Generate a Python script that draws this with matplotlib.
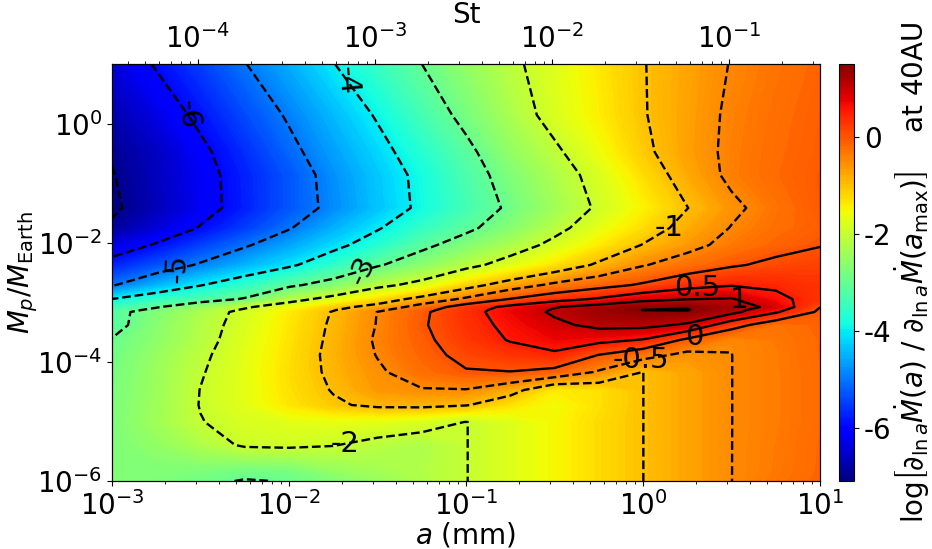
import numpy as np
import matplotlib
matplotlib.use('Agg')
import matplotlib.pyplot as plt

plt.rcParams['font.size'] = 20
plt.rcParams['axes.unicode_minus'] = False

# grid of the map, log10 of a (mm) and log10 of Mp/MEarth
log_a = [-3.0, -2.75, -2.5, -2.25, -2.0, -1.75, -1.5, -1.25, -1.0,
         -0.75, -0.5, -0.25, 0.0, 0.25, 0.5, 0.75, 1.0]
log_mp = [-6.0, -5.815, -5.396, -5.01, -4.724, -4.472, -4.17, -3.885, -3.633, -3.381,
          -3.163, -3.129, -3.079, -2.945, -2.71, -2.374, -2.038, -1.753, -1.417,
          -0.863, -0.477, 0.144, 1.0]

field = [
    [-2.7, -2.78, -2.9, -3.03, -2.98, -2.75, -2.5, -2.25, -2.01, -1.75, -1.5, -1.25, -1.002, -0.75, -0.502, -0.32, -0.15],
    [-2.72, -2.72, -2.75, -2.85, -2.8, -2.5, -2.35, -2.22, -2.01, -1.75, -1.5, -1.25, -1.002, -0.75, -0.502, -0.35, -0.17],
    [-2.75, -2.55, -2.25, -1.93, -1.9, -1.98, -2.15, -2.25, -2.01, -1.75, -1.5, -1.25, -1.002, -0.75, -0.502, -0.36, -0.18],
    [-2.75, -2.4, -2.02, -1.82, -1.7, -1.65, -1.68, -1.8, -2.01, -1.75, -1.5, -1.25, -1.002, -0.75, -0.502, -0.38, -0.2],
    [-2.78, -2.42, -1.98, -1.7, -1.35, -1.07, -0.9, -0.87, -0.97, -1.3, -1.55, -1.3, -1.002, -0.75, -0.502, -0.38, -0.2],
    [-2.8, -2.45, -1.99, -1.68, -1.3, -0.97, -0.63, -0.53, -0.52, -0.82, -1.4, -1.3, -1.002, -0.75, -0.502, -0.38, -0.2],
    [-2.85, -2.45, -2.04, -1.68, -1.28, -0.9, -0.57, -0.25, -0.03, -0.01, -0.13, -0.55, -1.002, -0.75, -0.502, -0.38, -0.2],
    [-2.9, -2.5, -2.1, -1.7, -1.3, -0.87, -0.48, -0.15, 0.12, 0.28, 0.42, -0.01, -0.33, -0.62, -0.502, -0.38, -0.18],
    [-2.97, -2.6, -2.18, -1.75, -1.33, -0.9, -0.44, -0.1, 0.24, 0.53, 0.72, 0.63, 0.47, -0.1, -0.49, -0.35, -0.18],
    [-3.2, -2.65, -2.22, -1.8, -1.36, -0.93, -0.48, -0.05, 0.3, 0.62, 0.9, 1.12, 1.13, 0.93, 0.2, -0.3, -0.15],
    [-3.2, -2.72, -2.28, -1.85, -1.4, -0.97, -0.49, -0.08, 0.33, 0.72, 1.07, 1.3, 1.45, 1.45, 1.13, 0.55, -0.08],
    [-3.3, -2.85, -2.38, -1.93, -1.48, -1.03, -0.6, -0.15, 0.3, 0.7, 1.04, 1.3, 1.505, 1.52, 1.18, 0.65, -0.05],
    [-3.45, -3.05, -2.55, -2.08, -1.65, -1.15, -0.82, -0.3, 0.24, 0.62, 0.97, 1.2, 1.4, 1.48, 1.25, 0.86, 0.005],
    [-4.0, -3.6, -3.3, -2.95, -2.25, -1.78, -1.3, -0.83, -0.42, 0.01, 0.3, 0.55, 0.85, 0.98, 1.03, 0.62, 0.3],
    [-5.05, -4.5, -4.03, -3.6, -3.12, -2.73, -2.17, -1.8, -1.2, -0.75, -0.4, -0.17, 0.06, 0.33, 0.47, 0.42, 0.3],
    [-5.75, -5.35, -4.93, -4.5, -4.1, -3.6, -3.06, -2.63, -2.18, -1.75, -1.33, -0.92, -0.53, -0.27, -0.05, 0.1, 0.18],
    [-6.37, -5.94, -5.5, -5.07, -4.63, -4.17, -3.7, -3.15, -2.72, -2.3, -1.85, -1.4, -0.98, -0.65, -0.35, -0.15, -0.02],
    [-6.9, -6.45, -5.96, -5.52, -5.04, -4.53, -4.05, -3.55, -3.13, -2.67, -2.17, -1.68, -1.27, -0.82, -0.48, -0.25, -0.1],
    [-7.1, -6.67, -6.22, -5.77, -5.3, -4.85, -4.36, -3.88, -3.38, -2.9, -2.4, -1.92, -1.46, -1.01, -0.6, -0.3, -0.05],
    [-7.03, -6.62, -6.2, -5.75, -5.3, -4.8, -4.32, -3.85, -3.28, -2.75, -2.27, -1.8, -1.27, -0.8, -0.4, -0.2, -0.05],
    [-6.95, -6.6, -6.12, -5.65, -5.15, -4.67, -4.2, -3.68, -3.15, -2.55, -2.1, -1.6, -1.1, -0.72, -0.4, -0.22, -0.08],
    [-6.75, -6.33, -5.87, -5.4, -4.93, -4.45, -3.94, -3.37, -2.83, -2.3, -1.8, -1.42, -1.03, -0.73, -0.42, -0.25, -0.1],
    [-6.4, -5.95, -5.5, -5.02, -4.55, -4.02, -3.5, -3.001, -2.55, -2.12, -1.73, -1.37, -1.02, -0.75, -0.48, -0.3, -0.15],
]

line_levels = [-7, -6, -5, -4, -3, -2, -1, -0.5, 0, 0.5, 1, 1.5]
label_a = [-2.588, -2.633, -1.684, -1.588, -1.684, 0.164, -0.017, 0.294, 0.305, 0.548]
label_mp = [0.126, -2.46, 0.7, -2.46, -5.35, -1.82, -3.935, -3.63, -2.71, -2.93]
label_rot = [-85, 88, -85, 65, 0, 0, 0, 0, 0, 0]
cbar_ticks = [-6, -4, -2, 0]
st_ticks = [-4, -3, -2, -1]
a_ticks = [-3, -2, -1, 0, 1]
mp_ticks = [-6, -4, -2, 0]
st_offset = -1.486   # log St = log a + offset


def log_minor(lo, hi):
    minor = []
    for n in range(int(np.floor(lo)), int(np.ceil(hi))):
        for m in range(2, 10):
            v = n + np.log10(m)
            if lo <= v <= hi:
                minor.append(v)
    return minor


fig = plt.figure(figsize=(9.32, 5.49), dpi=100)
ax = fig.add_axes([112 / 932, 1 - 481 / 549, 708 / 932, 417 / 549])
cax = fig.add_axes([839 / 932, 1 - 481 / 549, 15 / 932, 417 / 549])

X, Y = np.meshgrid(log_a, log_mp)
Z = np.array(field)
cf = ax.contourf(X, Y, Z, levels=np.linspace(-7.1, 1.55, 200), cmap='jet', antialiased=False)
cs = ax.contour(X, Y, Z, levels=line_levels, colors='k', linewidths=1.7)

ax.set_xlim(-3, 1)
ax.set_ylim(-6, 1)
labels = ax.clabel(cs, inline=False, fontsize=21, fmt='%g', manual=list(zip(label_a, label_mp)))
for t, r in zip(labels, label_rot):
    t.set_rotation(r)

ax.set_xticks(a_ticks)
ax.set_xticklabels([r'$10^{%d}$' % v for v in a_ticks])
ax.set_xticks(log_minor(-3, 1), minor=True)
ax.set_yticks(mp_ticks)
ax.set_yticklabels([r'$10^{%d}$' % v for v in mp_ticks])
ax.set_xlabel(r'$a$ (mm)', labelpad=0)
ax.set_ylabel(r'$M_p/M_{\rm Earth}$', labelpad=-2)

top = ax.twiny()
top.set_xlim(-3 + st_offset, 1 + st_offset)
top.set_xticks(st_ticks)
top.set_xticklabels([r'$10^{%d}$' % v for v in st_ticks])
top.set_xticks(log_minor(-3 + st_offset, 1 + st_offset), minor=True)
top.set_xlabel('St', labelpad=1)

cb = fig.colorbar(cf, cax=cax, ticks=cbar_ticks)
cb.ax.set_yticklabels(['%d' % v for v in cbar_ticks])
cb.ax.set_ylim(-7.1, 1.5)
cb.set_label(r'log$\left[\partial_{\ln a}\dot{M}(a)\ /\ \partial_{\ln a}\dot{M}(a_{\rm max})\right]$    at 40AU',
             labelpad=1, fontsize=20)

fig.savefig('out.png', dpi=100)
